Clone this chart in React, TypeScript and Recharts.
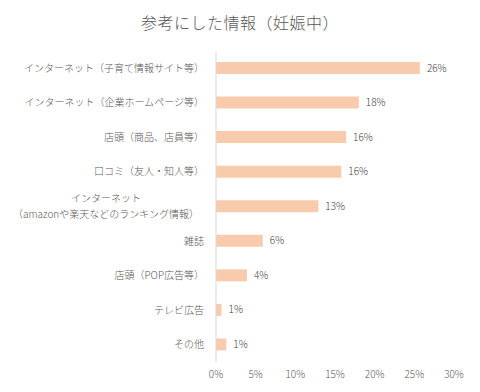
import { BarChart, Bar, XAxis, YAxis, LabelList } from "recharts";

const categories = [
  "インターネット（子育て情報サイト等）",
  "インターネット（企業ホームページ等）",
  "店頭（商品、店員等）",
  "口コミ（友人・知人等）",
  "インターネット\n（amazonや楽天などのランキング情報）",
  "雑誌",
  "店頭（POP広告等）",
  "テレビ広告",
  "その他",
];
const shares = [25.7, 18.0, 16.4, 15.8, 12.9, 5.9, 3.9, 0.7, 1.3];
const xTicks = [0, 5, 10, 15, 20, 25, 30];

const data = categories.map((name, i) => ({ name, value: shares[i] }));

const FONT = '"Noto Sans CJK JP", "Noto Sans", sans-serif';

function CategoryTick({ x, y, payload }: any) {
  const lines = String(payload.value).split("\n");
  if (lines.length === 1) {
    return (
      <text x={x} y={y} dy="0.35em" textAnchor="end" fontSize={10} fill="#595959" fontFamily={FONT} fontWeight={300}>
        {lines[0]}
      </text>
    );
  }
  // wrapped label: both lines centred on the wider (second) line
  const center = x - 98;
  return (
    <text x={center} y={y} textAnchor="middle" fontSize={10} fill="#595959" fontFamily={FONT} fontWeight={300}>
      {lines.map((l, i) => (
        <tspan key={i} x={center} dy={i === 0 ? "-0.45em" : "1.6em"}>
          {l}
        </tspan>
      ))}
    </text>
  );
}

export default function App() {
  return (
    <div style={{ position: "absolute", left: 0, top: 0, width: 480, height: 392, background: "#fff" }}>
      <div
        style={{
          position: "absolute",
          top: 10,
          width: 480,
          textAlign: "center",
          fontFamily: FONT,
          fontSize: 16,
          fontWeight: 300,
          color: "#595959",
          letterSpacing: 0.5,
        }}
      >
        参考にした情報（妊娠中）
      </div>
      <BarChart
        width={480}
        height={392}
        data={data}
        layout="vertical"
        margin={{ top: 51, right: 26, left: 0, bottom: 0 }}
      >
        <XAxis
          type="number"
          domain={[0, 30]}
          ticks={xTicks}
          tickFormatter={(v) => `${v}%`}
          axisLine={false}
          tickLine={false}
          tickMargin={3}
          tick={{ fontSize: 10, fill: "#595959", fontFamily: FONT, fontWeight: 300 }}
        />
        <YAxis
          type="category"
          dataKey="name"
          width={216}
          interval={0}
          tickLine={false}
          tickMargin={6}
          axisLine={{ stroke: "#d9d9d9" }}
          tick={<CategoryTick />}
        />
        <Bar dataKey="value" fill="#f8cbad" barSize={12} isAnimationActive={false}>
          <LabelList
            dataKey="value"
            position="right"
            offset={7}
            formatter={(v: any) => `${Math.round(Number(v))}%`}
            style={{ fontSize: 10, fill: "#404040", fontFamily: FONT, fontWeight: 300 }}
          />
        </Bar>
      </BarChart>
    </div>
  );
}
